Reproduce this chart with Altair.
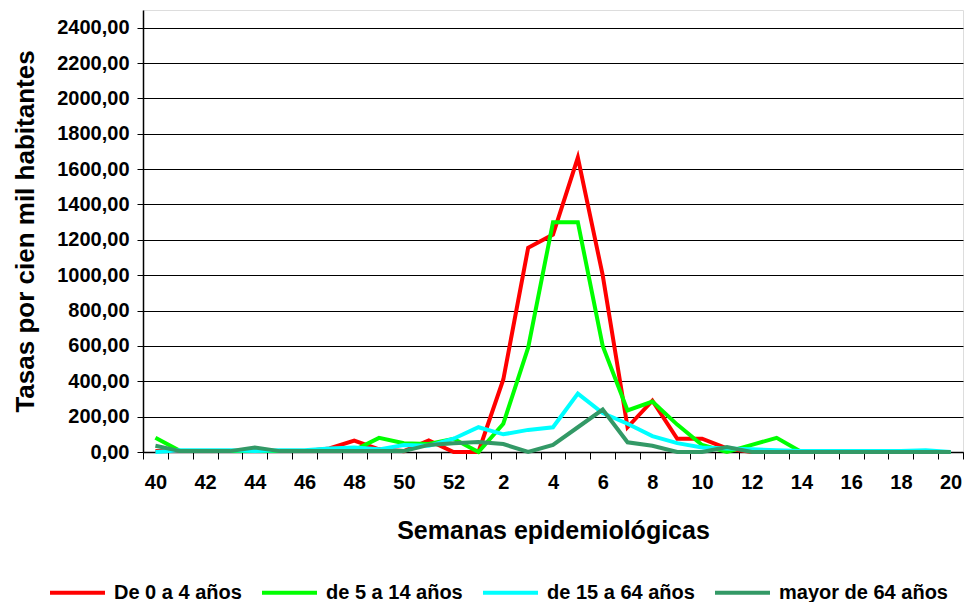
import altair as alt
import pandas as pd

weeks = ["40", "41", "42", "43", "44", "45", "46", "47", "48", "49", "50", "51", "52",
         "1", "2", "3", "4", "5", "6", "7", "8", "9", "10", "11", "12", "13", "14",
         "15", "16", "17", "18", "19", "20"]

series_names = ["De 0 a 4 años", "de 5 a 14 años", "de 15 a 64 años", "mayor de 64 años"]
series_colors = ["#FF0000", "#00FF00", "#00FFFF", "#339966"]

age_0_4 = [5, 5, 5, 5, 5, 5, 5, 20, 65, 15, 5, 65, 0,
           0, 410, 1155, 1230, 1665, 1000, 140, 290, 75, 75, 20, 0, 0, 0,
           0, 0, 0, 0, 0, 0]
age_5_14 = [80, 5, 5, 5, 5, 5, 5, 5, 10, 80, 50, 45, 75,
            0, 160, 590, 1300, 1300, 600, 235, 285, 155, 40, 0, 40, 80, 0,
            0, 0, 0, 0, 0, 0]
age_15_64 = [0, 10, 10, 10, 5, 10, 10, 20, 25, 15, 40, 35, 75,
             140, 100, 125, 140, 330, 220, 160, 90, 50, 25, 20, 15, 10, 5,
             5, 5, 5, 5, 10, 0]
age_64 = [35, 5, 5, 5, 25, 5, 5, 5, 5, 5, 5, 40, 50,
          57, 45, 0, 40, 140, 240, 55, 35, 0, 0, 28, 0, 0, 0,
          0, 0, 0, 0, 0, 0]

y_ticks = list(range(0, 2401, 200))

rows = []
for name, vals in zip(series_names, [age_0_4, age_5_14, age_15_64, age_64]):
    for i, (w, v) in enumerate(zip(weeks, vals)):
        rows.append({"semana": w, "idx": i, "serie": name, "tasa": v})
df = pd.DataFrame(rows)

font = "Liberation Sans"

chart = alt.Chart(df).mark_line(strokeWidth=4).encode(
    x=alt.X("semana:N", sort=weeks,
            scale=alt.Scale(paddingInner=0, paddingOuter=0),
            axis=alt.Axis(title="Semanas epidemiológicas", labelAngle=0,
                          labelExpr="toNumber(datum.label) % 2 == 0 ? datum.label : ''",
                          tickBand="extent", tickSize=7, tickColor="black",
                          domainColor="black", domainWidth=1.5,
                          labelFontSize=20, labelFontWeight="bold", labelColor="black",
                          labelPadding=13, titleFontSize=25, titleFontWeight="bold",
                          titleColor="black", titlePadding=26, grid=False)),
    y=alt.Y("tasa:Q", scale=alt.Scale(domain=[0, 2500], nice=False),
            axis=alt.Axis(title="Tasas por cien mil habitantes", values=y_ticks,
                          labelExpr="replace(format(datum.value, '.2f'), '.', ',')",
                          tickSize=6, tickColor="black", domainColor="black", domainWidth=1.5,
                          gridColor="black", gridWidth=1, gridOpacity=1,
                          labelFontSize=20, labelFontWeight="bold", labelColor="black",
                          labelPadding=8, titleFontSize=26, titleFontWeight="bold",
                          titleColor="black", titlePadding=18)),
    color=alt.Color("serie:N", sort=series_names,
                    scale=alt.Scale(domain=series_names, range=series_colors),
                    legend=alt.Legend(title=None, orient="none", direction="horizontal",
                                      legendX=-95, legendY=553,
                                      symbolType="stroke", symbolSize=3025,
                                      symbolStrokeWidth=4, labelFontSize=20,
                                      labelFontWeight="bold", labelColor="black",
                                      labelOffset=7, columnPadding=12, padding=0,
                                      labelLimit=400)),
    order=alt.Order("idx:Q"),
).properties(
    width=820, height=442,
    autosize=alt.AutoSizeParams(type="none"),
    padding={"left": 135, "top": 2, "right": 6, "bottom": 150},
).configure_view(
    stroke="#999999", strokeWidth=2
).configure(font=font)

chart.save("out.html", embed_options={"renderer": "svg", "actions": False})
